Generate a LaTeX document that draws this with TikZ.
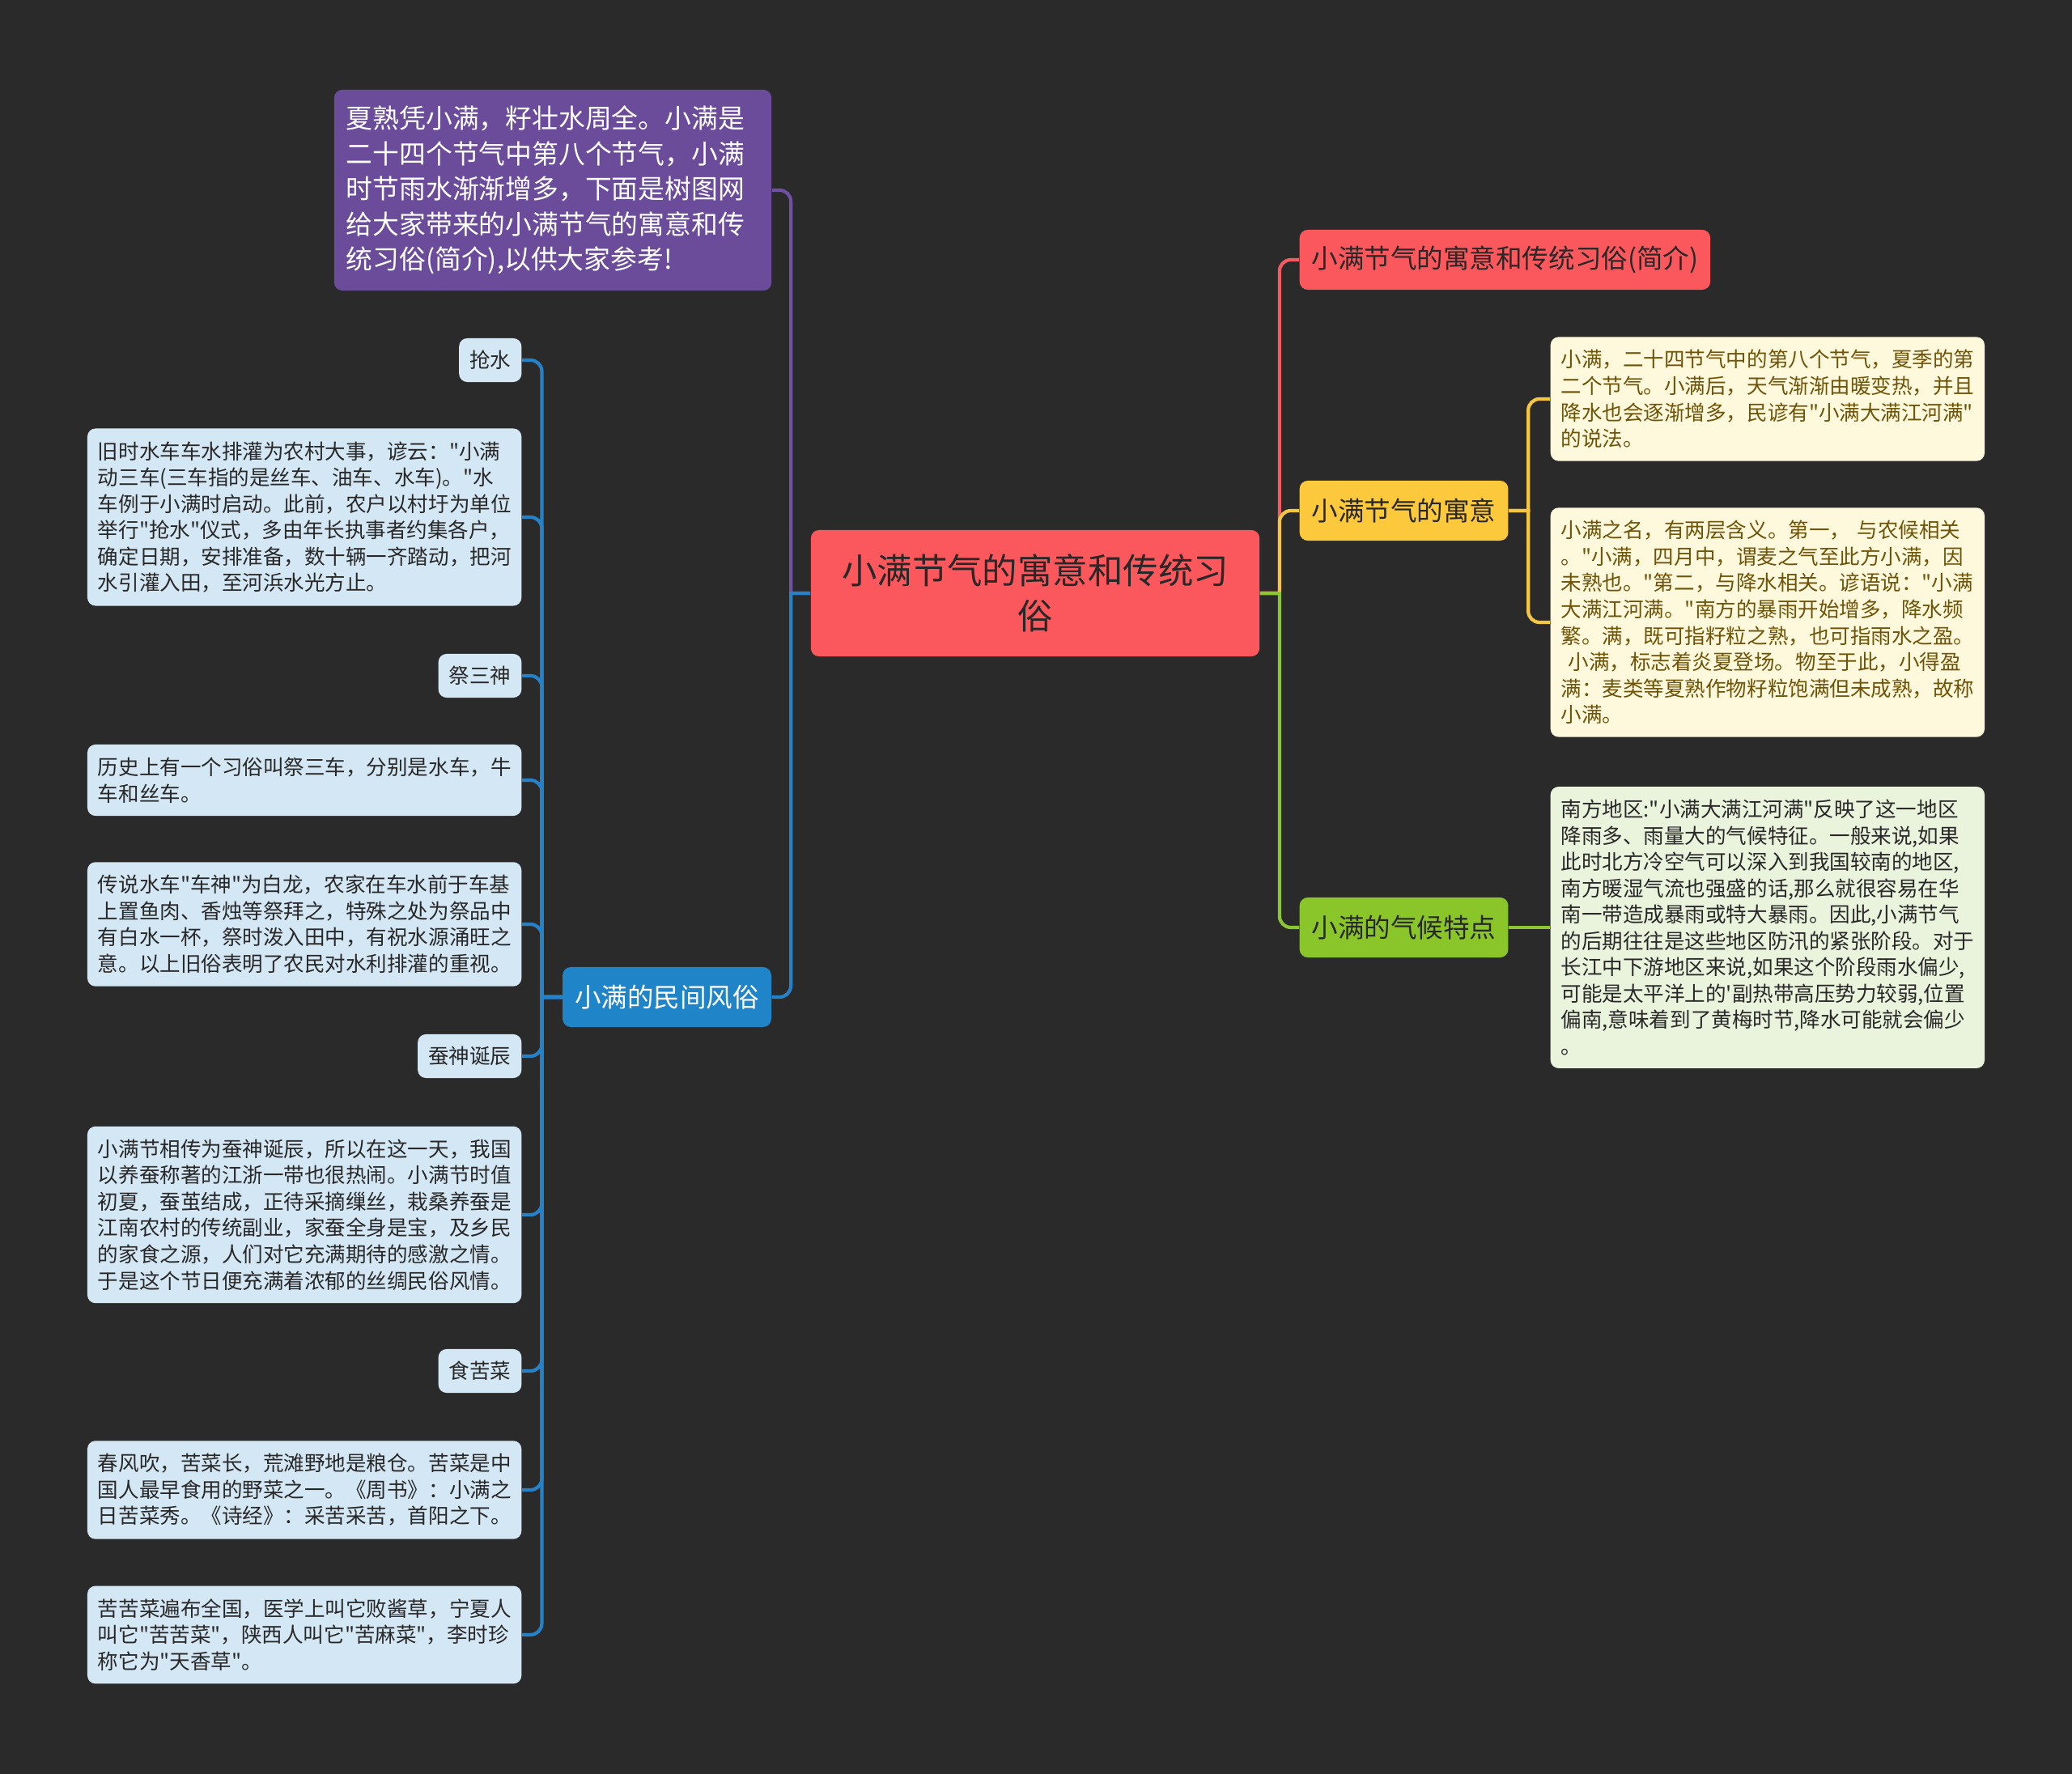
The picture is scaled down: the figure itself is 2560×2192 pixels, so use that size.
\documentclass[tikz,border=0pt]{standalone}
\usepackage{fontspec}
\setmainfont{Noto Sans CJK SC}[Ligatures=TeXOff]
\usetikzlibrary{positioning}

\definecolor{bgdark}{RGB}{42,42,42}
\definecolor{inkdark}{RGB}{40,40,40}
\definecolor{inkolive}{RGB}{110,84,8}
\definecolor{rootred}{RGB}{250,88,92}
\definecolor{introviolet}{RGB}{107,76,155}
\definecolor{folkblue}{RGB}{31,132,200}
\definecolor{sunyellow}{RGB}{252,200,60}
\definecolor{leafgreen}{RGB}{138,198,42}
\definecolor{paleblue}{RGB}{212,231,244}
\definecolor{paleyellow}{RGB}{254,248,220}
\definecolor{palegreen}{RGB}{234,243,220}
\definecolor{lineviolet}{RGB}{112,80,160}
\definecolor{lineblue}{RGB}{38,130,200}
\definecolor{linered}{RGB}{242,92,96}
\definecolor{lineyellow}{RGB}{246,198,66}
\definecolor{linegreen}{RGB}{140,198,50}

\begin{document}
\begin{tikzpicture}[x=0.01cm, y=-0.01cm,
  box/.style={rounded corners=0.1cm, inner xsep=0.13cm, inner ysep=0.16cm},
  small/.style={font=\fontsize{7.26}{9.25}\selectfont},
  tag/.style={box, small, fill=paleblue, text=inkdark, inner ysep=0.14cm, minimum height=0.54cm},
  note/.style={box, small, text width=5.1cm, align=left},
  bluenote/.style={note, fill=paleblue, text=inkdark},
  yellownote/.style={note, fill=paleyellow, text=inkolive},
  greennote/.style={note, fill=palegreen, text=inkdark},
  topic/.style={box, font=\fontsize{9.25}{12}\selectfont, inner xsep=0.15cm, minimum height=0.74cm},
  link/.style={line width=1.2pt}]

\useasboundingbox (0,0) rectangle (2560,2192);
\fill[bgdark] (0,0) rectangle (2560,2192);

% centre
\node[box, fill=rootred, text=inkdark, align=center, minimum width=5.54cm, minimum height=1.56cm,
      font=\fontsize{12.35}{15.8}\selectfont] (root) at (1279,733)
  {小满节气的寓意和传统习\\俗};

% intro on top left
\node[box, fill=introviolet, text=white, text width=5.1cm, align=left, inner xsep=0.15cm,
      minimum height=2.48cm, font=\fontsize{9.33}{12.4}\selectfont] (intro) at (683,235)
  {夏熟凭小满，籽壮水周全。小满是\\
   二十四个节气中第八个节气，小满\\
   时节雨水渐渐增多，下面是树图网\\
   给大家带来的小满节气的寓意和传\\
   统习俗(简介),以供大家参考!};

% left branch: customs
\node[topic, fill=folkblue, text=white] (folk) at (824,1232) {小满的民间风俗};

\begin{scope}
  \node[tag, anchor=east] (qiang) at (645,445) {抢水};
  \node[bluenote, anchor=east] (qiangtext) at (645,639)
    {旧时水车车水排灌为农村大事，谚云："小满\\
     动三车(三车指的是丝车、油车、水车)。"水\\
     车例于小满时启动。此前，农户以村圩为单位\\
     举行"抢水"仪式，多由年长执事者约集各户，\\
     确定日期，安排准备，数十辆一齐踏动，把河\\
     水引灌入田，至河浜水光方止。};

  \node[tag, anchor=east] (sanshen) at (645,835) {祭三神};
  \node[bluenote, anchor=east] (sanche) at (645,964)
    {历史上有一个习俗叫祭三车，分别是水车，牛\\
     车和丝车。};
  \node[bluenote, anchor=east] (cheshen) at (645,1142)
    {传说水车"车神"为白龙，农家在车水前于车基\\
     上置鱼肉、香烛等祭拜之，特殊之处为祭品中\\
     有白水一杯，祭时泼入田中，有祝水源涌旺之\\
     意。以上旧俗表明了农民对水利排灌的重视。};

  \node[tag, anchor=east] (canshen) at (645,1305) {蚕神诞辰};
  \node[bluenote, anchor=east] (cantext) at (645,1501)
    {小满节相传为蚕神诞辰，所以在这一天，我国\\
     以养蚕称著的江浙一带也很热闹。小满节时值\\
     初夏，蚕茧结成，正待采摘缫丝，栽桑养蚕是\\
     江南农村的传统副业，家蚕全身是宝，及乡民\\
     的家食之源，人们对它充满期待的感激之情。\\
     于是这个节日便充满着浓郁的丝绸民俗风情。};

  \node[tag, anchor=east] (kucai) at (645,1694) {食苦菜};
  \node[bluenote, anchor=east] (chunfeng) at (645,1841)
    {春风吹，苦菜长，荒滩野地是粮仓。苦菜是中\\
     国人最早食用的野菜之一。《周书》：小满之\\
     日苦菜秀。《诗经》：采苦采苦，首阳之下。};
  \node[bluenote, anchor=east] (kukucai) at (645,2020)
    {苦苦菜遍布全国，医学上叫它败酱草，宁夏人\\
     叫它"苦苦菜"，陕西人叫它"苦麻菜"，李时珍\\
     称它为"天香草"。};
\end{scope}

% right branch
\node[topic, fill=rootred, text=inkdark, anchor=west] (brief) at (1605,321) {小满节气的寓意和传统习俗(简介)};
\node[topic, fill=sunyellow, text=inkdark, anchor=west] (meaning) at (1605,631) {小满节气的寓意};
\node[topic, fill=leafgreen, text=inkdark, anchor=west] (climate) at (1605,1146) {小满的气候特点};

\node[yellownote, anchor=west] (meaningA) at (1915,493)
  {小满，二十四节气中的第八个节气，夏季的第\\
   二个节气。小满后，天气渐渐由暖变热，并且\\
   降水也会逐渐增多，民谚有"小满大满江河满"\\
   的说法。};
\node[yellownote, anchor=west] (meaningB) at (1915,769)
  {小满之名，有两层含义。第一，~与农候相关\\
   。"小满，四月中，谓麦之气至此方小满，因\\
   未熟也。"第二，与降水相关。谚语说："小满\\
   大满江河满。"南方的暴雨开始增多，降水频\\
   繁。满，既可指籽粒之熟，也可指雨水之盈。\\
   \hspace*{0.35em}小满，标志着炎夏登场。物至于此，小得盈\\
   满：麦类等夏熟作物籽粒饱满但未成熟，故称\\
   小满。};
\node[greennote, anchor=west] (south) at (1915,1146)
  {南方地区:"小满大满江河满"反映了这一地区\\
   降雨多、雨量大的气候特征。一般来说,如果\\
   此时北方冷空气可以深入到我国较南的地区,\\
   南方暖湿气流也强盛的话,那么就很容易在华\\
   南一带造成暴雨或特大暴雨。因此,小满节气\\
   的后期往往是这些地区防汛的紧张阶段。对于\\
   长江中下游地区来说,如果这个阶段雨水偏少,\\
   可能是太平洋上的'副热带高压势力较弱,位置\\
   偏南,意味着到了黄梅时节,降水可能就会偏少\\
   。};

% connectors
\draw[link, lineviolet] (root.west) -- ++(-24,0) [rounded corners=0.14cm] |- (intro.east);
\draw[link, lineblue] (root.west) -- ++(-24,0) [rounded corners=0.14cm] |- (folk.east);
\foreach \leaf in {qiang, qiangtext, sanshen, sanche, cheshen, canshen, cantext, kucai, chunfeng, kukucai}
  \draw[link, lineblue] (folk.west) -- ++(-25,0) [rounded corners=0.14cm] |- (\leaf.east);

\draw[link, linered] (root.east) -- ++(24,0) [rounded corners=0.14cm] |- (brief.west);
\draw[link, lineyellow] (root.east) -- ++(24,0) [rounded corners=0.14cm] |- (meaning.west);
\draw[link, linegreen] (root.east) -- ++(24,0) [rounded corners=0.14cm] |- (climate.west);

\draw[link, lineyellow] (meaning.east) -- ++(24,0) [rounded corners=0.14cm] |- (meaningA.west);
\draw[link, lineyellow] (meaning.east) -- ++(24,0) [rounded corners=0.14cm] |- (meaningB.west);
\draw[link, linegreen] (climate.east) -- (south.west);

\end{tikzpicture}
\end{document}
